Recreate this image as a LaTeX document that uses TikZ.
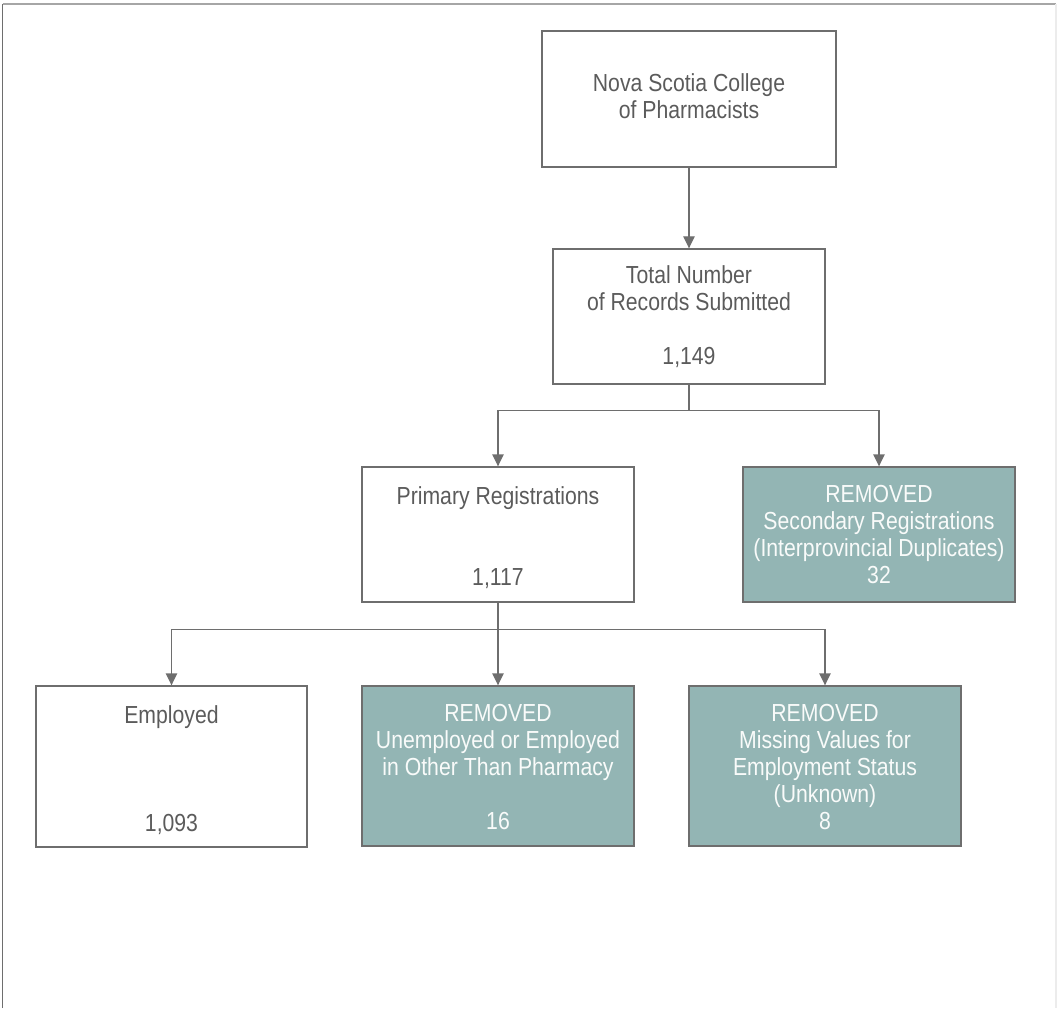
\documentclass[tikz,border=0pt]{standalone}
\usepackage{fontspec}
\setmainfont{Liberation Sans}[FakeStretch=0.86]
\usetikzlibrary{arrows.meta}
\definecolor{inkgray}{HTML}{5B5B5B}
\definecolor{rulegray}{HTML}{6E6E6E}
\definecolor{removedfill}{HTML}{93B5B4}
\begin{document}
\begin{tikzpicture}[x=0.75pt,y=-0.75pt,font=\fontsize{18.5}{20.25}\selectfont,
  box/.style 2 args={draw=rulegray,line width=1pt,minimum width=#1*0.75pt,minimum height=#2*0.75pt,inner sep=0pt},
  removed/.style={fill=removedfill},
  boxtext/.style={anchor=north,align=center,inner sep=0pt,text=inkgray},
  removedtext/.style={boxtext,text=white!94!removedfill},
  link/.style={draw=rulegray,line width=1pt,-{Triangle[width=8.5pt,length=9pt]}}]
\useasboundingbox (0,0) rectangle (1057,1009);
% frame round the page
\draw[rulegray,line width=1pt] (2.5,1008) -- (2.5,4);
\draw[gray!70,line width=1pt] (2.5,4) -- (1056,4);
\draw[gray!15,line width=0.8pt] (1056,4) -- (1056,1008);
% boxes
\node[box={294}{136}] (college) at (689,99) {};
\node[box={272}{135}] (total) at (689,316.5) {};
\node[box={272}{135}] (primary) at (498,534.5) {};
\node[box={272}{135},removed] (secondary) at (879,534.5) {};
\node[box={271}{161}] (employed) at (171.5,766.5) {};
\node[box={272}{160},removed] (unemployed) at (498,766) {};
\node[box={272}{160},removed] (missing) at (825,766) {};
% box texts
\node[boxtext] (collegetxt) at ([yshift=-43*0.75pt]college.north) {Nova Scotia College\\of Pharmacists};
\node[boxtext] (totaltxt) at ([yshift=-17*0.75pt]total.north) {Total Number\\of Records Submitted\\[20.25pt]1,149};
\node[boxtext] (primarytxt) at ([yshift=-20*0.75pt]primary.north) {Primary Registrations\\[40.5pt]1,117};
\node[removedtext] (secondarytxt) at ([yshift=-19*0.75pt]secondary.north) {REMOVED\\Secondary Registrations\\(Interprovincial Duplicates)\\32};
\node[boxtext] (employedtxt) at ([yshift=-20*0.75pt]employed.north) {Employed\\[60.75pt]1,093};
\node[removedtext] (unemployedtxt) at ([yshift=-19*0.75pt]unemployed.north) {REMOVED\\Unemployed or Employed\\in Other Than Pharmacy\\[20.25pt]16};
\node[removedtext] (missingtxt) at ([yshift=-19*0.75pt]missing.north) {REMOVED\\Missing Values for\\Employment Status\\(Unknown)\\8};
% connectors
\draw[link] (college) -- (total);
\draw[link] (total.south) -- ++(0,26) -| (primary);
\draw[link] (total.south) -- ++(0,26) -| (secondary);
\draw[link] (primary.south) -- ++(0,27) -| (employed);
\draw[link] (primary.south) -- (unemployed);
\draw[link] (primary.south) -- ++(0,27) -| (missing);
\end{tikzpicture}
\end{document}
